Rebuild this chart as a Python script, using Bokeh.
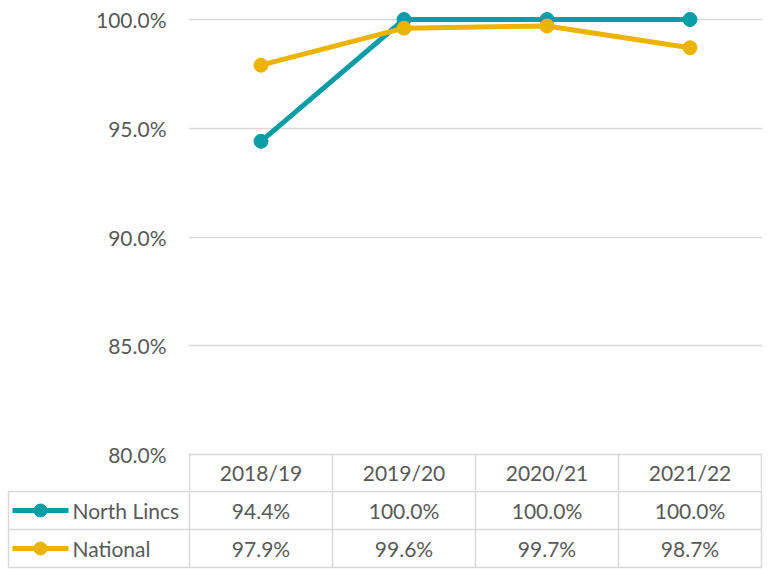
from bokeh.plotting import figure
from bokeh.layouts import column
from bokeh.models import Range1d, FixedTicker, PrintfTickFormatter
from bokeh.core.properties import value
from bokeh.embed import file_html
from bokeh.resources import INLINE

# ---- data ----
years = ["2018/19", "2019/20", "2020/21", "2021/22"]
north_lincs = [94.4, 100.0, 100.0, 100.0]
national = [97.9, 99.6, 99.7, 98.7]
series_names = ["North Lincs", "National"]
y_ticks = [80, 85, 90, 95, 100]

# ---- style / layout ----
TEAL = "#0A9DA6"
GOLD = "#ECB400"
series_colors = [TEAL, GOLD]
GRID = "#D9D9D9"
TXT = "#595959"
FONT = "Lato"
FS = "21px"
UNIT = 143.0      # px per category
PX_PCT = 21.75    # px per percentage point
X0 = 189          # page x of first category boundary
XR = 762          # page x of right end of plot area
W = 768
HA = 490
HB = 79

n = len(years)
xc = [i + 0.5 for i in range(n)]
bounds = list(range(n + 1))

# ---------------- chart (top) ----------------
y0 = 80 - 36 / PX_PCT
pA = figure(width=W, height=HA, output_backend="svg", toolbar_location=None,
            x_range=Range1d(-1 / UNIT, (XR - X0) / UNIT),
            y_range=Range1d(y0, 100 + 19 / PX_PCT),
            x_axis_location=None,
            min_border_left=X0 - 1, min_border_right=W - XR,
            min_border_top=0, min_border_bottom=0)
pA.frame_align = False
pA.outline_line_color = None
pA.background_fill_color = "white"
pA.border_fill_color = "white"

ax = pA.yaxis[0]
ax.ticker = FixedTicker(ticks=y_ticks)
ax.formatter = PrintfTickFormatter(format="%.1f%%")
ax.axis_line_color = None
ax.major_tick_line_color = None
ax.minor_tick_line_color = None
ax.major_tick_out = 0
ax.major_label_standoff = 22
ax.major_label_text_font = FONT
ax.major_label_text_font_size = FS
ax.major_label_text_color = TXT

pA.xgrid.visible = False
pA.ygrid.grid_line_color = GRID
pA.ygrid.grid_line_width = 1.5

# header row of the data table (inside chart frame, below 80%)
pA.segment(x0=bounds, y0=[80] * len(bounds), x1=bounds, y1=[y0] * len(bounds),
           line_color=GRID, line_width=1.5)
pA.text(x=xc, y=[80 - 18 / PX_PCT] * n, text=years, text_align="center",
        text_baseline="middle", text_font=value(FONT), text_font_size=FS,
        text_color=TXT)

for vals, col in zip([north_lincs, national], series_colors):
    pA.line(xc, vals, line_color=col, line_width=5)
    pA.scatter(xc, vals, size=14, fill_color=col, line_color=col)

# ---------------- table rows (bottom) ----------------
pB = figure(width=W, height=HB, output_backend="svg", toolbar_location=None,
            x_range=Range1d(-X0 / UNIT, (W - X0) / UNIT),
            y_range=Range1d(HA + HB, HA),
            x_axis_location=None, y_axis_location=None,
            min_border_left=0, min_border_right=0,
            min_border_top=0, min_border_bottom=0)
pB.frame_align = False
pB.outline_line_color = None
pB.grid.visible = False
pB.background_fill_color = "white"
pB.border_fill_color = "white"

x_leg = (8 - X0) / UNIT
row_lines = [491, 529, 567]
row_mid = [510, 548]

pB.segment(x0=[x_leg] * 3, y0=row_lines, x1=[n] * 3, y1=row_lines,
           line_color=GRID, line_width=1.5)
pB.segment(x0=[x_leg], y0=[491], x1=[x_leg], y1=[567],
           line_color=GRID, line_width=1.5)
pB.segment(x0=bounds, y0=[HA] * len(bounds), x1=bounds, y1=[567] * len(bounds),
           line_color=GRID, line_width=1.5)

for vals, name, col, ym in zip([north_lincs, national], series_names,
                               series_colors, row_mid):
    pB.segment(x0=[(12 - X0) / UNIT], y0=[ym], x1=[(68 - X0) / UNIT], y1=[ym],
               line_color=col, line_width=5)
    pB.scatter([(40 - X0) / UNIT], [ym], size=13, fill_color=col, line_color=col)
    pB.text(x=[(72 - X0) / UNIT], y=[ym], text=[name], text_align="left",
            text_baseline="middle", text_font=value(FONT), text_font_size=FS,
            text_color=TXT)
    pB.text(x=xc, y=[ym] * n, text=[f"{v:.1f}%" for v in vals],
            text_align="center", text_baseline="middle", text_font=value(FONT),
            text_font_size=FS, text_color=TXT)

layout = column(pA, pB, spacing=0)
open("out.html", "w").write(file_html(layout, INLINE))
